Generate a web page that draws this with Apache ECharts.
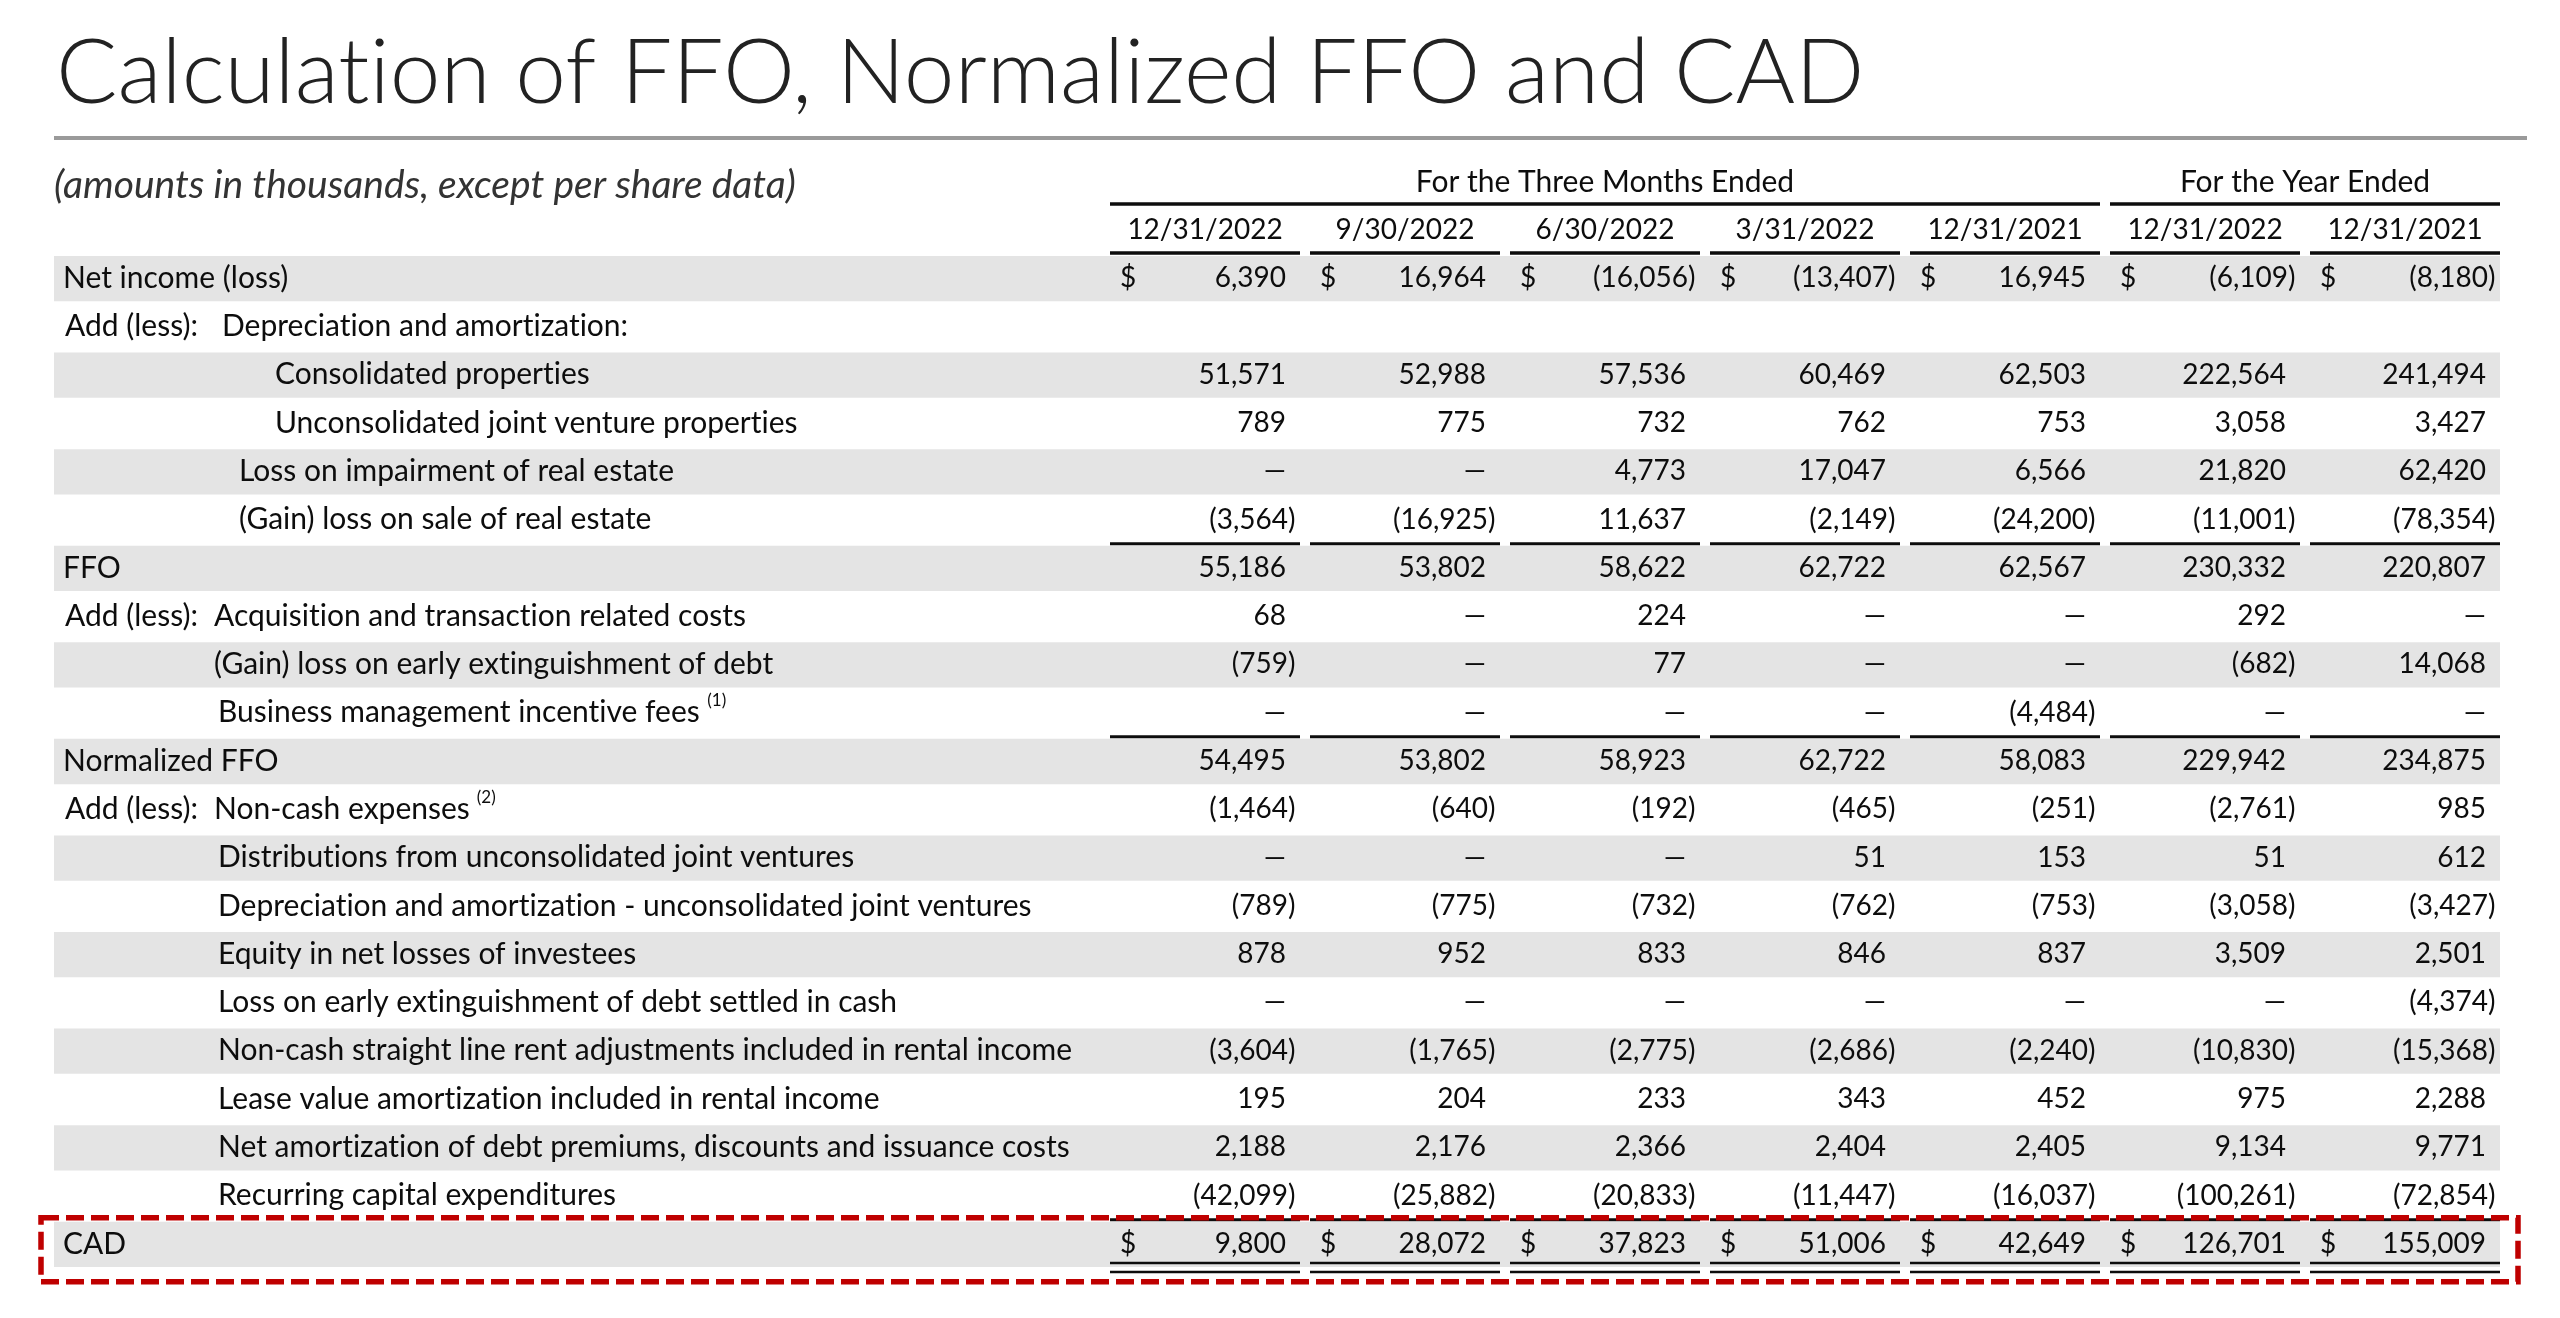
<!DOCTYPE html>
<html lang="en">
<head>
<meta charset="UTF-8">
<title>Calculation of FFO, Normalized FFO and CAD</title>
<script src="https://cdn.jsdelivr.net/npm/echarts@6.0.0/dist/echarts.min.js"></script>
<style>
  html, body { margin: 0; padding: 0; background: #fff; }
  #main { width: 2560px; height: 1318px; }
</style>
</head>
<body>
<div id="main"></div>
<script>
// ---- data ----
var periods = ['12/31/2022', '9/30/2022', '6/30/2022', '3/31/2022', '12/31/2021', '12/31/2022', '12/31/2021'];
var periodGroups = ['For the Three Months Ended', 'For the Year Ended'];
var periodGroupOf = [0, 0, 0, 0, 0, 1, 1];

var rowLabels = [
  'Net income (loss)',
  'Depreciation and amortization:',
  'Consolidated properties',
  'Unconsolidated joint venture properties',
  'Loss on impairment of real estate',
  '(Gain) loss on sale of real estate',
  'FFO',
  'Acquisition and transaction related costs',
  '(Gain) loss on early extinguishment of debt',
  'Business management incentive fees',
  'Normalized FFO',
  'Non-cash expenses',
  'Distributions from unconsolidated joint ventures',
  'Depreciation and amortization - unconsolidated joint ventures',
  'Equity in net losses of investees',
  'Loss on early extinguishment of debt settled in cash',
  'Non-cash straight line rent adjustments included in rental income',
  'Lease value amortization included in rental income',
  'Net amortization of debt premiums, discounts and issuance costs',
  'Recurring capital expenditures',
  'CAD'
];
var rowPrefix = ['', 'Add (less):', '', '', '', '', '', 'Add (less):', '', '', '', 'Add (less):', '', '', '', '', '', '', '', '', ''];
var rowNotes = ['', '', '', '', '', '', '', '', '', '(1)', '', '(2)', '', '', '', '', '', '', '', '', ''];

// 0 means "—"
var netIncome        = [6390, 16964, -16056, -13407, 16945, -6109, -8180];
var consolidated     = [51571, 52988, 57536, 60469, 62503, 222564, 241494];
var unconsolidated   = [789, 775, 732, 762, 753, 3058, 3427];
var impairment       = [0, 0, 4773, 17047, 6566, 21820, 62420];
var saleGainLoss     = [-3564, -16925, 11637, -2149, -24200, -11001, -78354];
var ffo              = [55186, 53802, 58622, 62722, 62567, 230332, 220807];
var acquisitionCosts = [68, 0, 224, 0, 0, 292, 0];
var earlyDebt        = [-759, 0, 77, 0, 0, -682, 14068];
var incentiveFees    = [0, 0, 0, 0, -4484, 0, 0];
var normalizedFfo    = [54495, 53802, 58923, 62722, 58083, 229942, 234875];
var nonCashExpenses  = [-1464, -640, -192, -465, -251, -2761, 985];
var jvDistributions  = [0, 0, 0, 51, 153, 51, 612];
var jvDepreciation   = [-789, -775, -732, -762, -753, -3058, -3427];
var equityLosses     = [878, 952, 833, 846, 837, 3509, 2501];
var debtSettledCash  = [0, 0, 0, 0, 0, 0, -4374];
var straightLineRent = [-3604, -1765, -2775, -2686, -2240, -10830, -15368];
var leaseAmort       = [195, 204, 233, 343, 452, 975, 2288];
var debtPremiums     = [2188, 2176, 2366, 2404, 2405, 9134, 9771];
var capex            = [-42099, -25882, -20833, -11447, -16037, -100261, -72854];
var cad              = [9800, 28072, 37823, 51006, 42649, 126701, 155009];

var rowValues = [netIncome, null, consolidated, unconsolidated, impairment, saleGainLoss, ffo,
  acquisitionCosts, earlyDebt, incentiveFees, normalizedFfo, nonCashExpenses, jvDistributions,
  jvDepreciation, equityLosses, debtSettledCash, straightLineRent, leaseAmort, debtPremiums, capex, cad];

// ---- styling ----
var rowIndent = [9, 168, 221, 221, 185, 185, 9, 160, 160, 164, 9, 160, 164, 164, 164, 164, 164, 164, 164, 164, 9];
var dollarRows = [0, 20];
var subtotalRows = [6, 10, 20];
var totalRow = 20;

var LABEL_FONT = '30px Lato';
var NUM_FONT = '28px Lato';
var INK = '#0d0d0d';
var BAND = '#e4e4e4';
var LABEL_AREA = 1056;
var COL_GAP = 10;

var measureCtx = document.createElement('canvas').getContext('2d');
function textWidth(str, font) {
  measureCtx.font = font;
  return measureCtx.measureText(str).width;
}

// zero-width non-joiners stop Lato from drawing ti / tt / fi style ligatures
function noLig(s) {
  return s.replace(/([ft])(?=[filt])/g, '$1\u200C');
}

function fmt(v) {
  if (v === 0) return '\u2014';
  var s = Math.abs(v).toString().replace(/\B(?=(\d{3})+(?!\d))/g, ',');
  return v < 0 ? '(' + s + ')' : s;
}

function txt(x, y, text, align, font, fill) {
  return {
    type: 'text', x: x, y: y,
    style: {
      text: noLig(text), font: font || LABEL_FONT, fill: fill || INK,
      align: align, verticalAlign: 'middle',
      textAlign: align, textVerticalAlign: 'middle'
    }
  };
}

function bar(x, y, w, h, fill) {
  return { type: 'rect', shape: { x: x, y: y, width: w, height: h }, style: { fill: fill || INK } };
}

function renderHeader(params, api) {
  var c = api.value(0);
  var center = api.coord([c, 0]);
  var colW = api.size([1, 0])[0];
  var x0 = center[0] - colW / 2;
  var cy = center[1];
  var kids = [];
  kids.push(txt(x0 + (colW - COL_GAP) / 2, cy - 48, periods[c], 'center', NUM_FONT));
  kids.push(bar(x0, cy - 27, colW - COL_GAP, 3.5));
  var g = periodGroupOf[c];
  if (c === 0 || periodGroupOf[c - 1] !== g) {
    var last = c;
    while (last + 1 < periods.length && periodGroupOf[last + 1] === g) last++;
    var w = (last - c + 1) * colW - COL_GAP;
    kids.push(txt(x0 + w / 2, cy - 96, periodGroups[g], 'center'));
    kids.push(bar(x0, cy - 76, w, 3.5));
  }
  return { type: 'group', children: kids };
}

function renderRow(params, api) {
  var r = api.value(1);
  var cs = params.coordSys;
  var cy = api.coord([0, r])[1];
  var pitch = api.size([0, 1])[1];
  var colW = api.size([1, 0])[0];
  var left = cs.x - LABEL_AREA;
  var right = cs.x + cs.width - COL_GAP;
  var kids = [];
  if (r % 2 === 0) {
    kids.push(bar(left, cy - pitch / 2 + 2, right - left, pitch - 3, BAND));
  }
  if (rowPrefix[r]) kids.push(txt(left + 11, cy, rowPrefix[r], 'left'));
  var lx = left + rowIndent[r];
  kids.push(txt(lx, cy, rowLabels[r], 'left'));
  if (rowNotes[r]) {
    kids.push(txt(lx + textWidth(rowLabels[r], LABEL_FONT) + 7, cy - 12, rowNotes[r], 'left', '17px Lato'));
  }
  if (subtotalRows.indexOf(r) >= 0) {
    for (var c = 0; c < periods.length; c++) {
      var cx = api.coord([c, r])[0] - colW / 2;
      kids.push(bar(cx, cy - pitch / 2 - 1.5, colW - COL_GAP, 3));
    }
  }
  if (r === totalRow) {
    kids.push({
      type: 'rect',
      shape: { x: left - 13, y: cy - 26, width: right - left + 31, height: 64 },
      style: { fill: 'none', stroke: '#bf0000', lineWidth: 5.5, lineDash: [18, 7] }
    });
  }
  return { type: 'group', children: kids };
}

function renderCell(params, api) {
  var c = api.value(0);
  var r = api.value(1);
  var v = api.value(2);
  var center = api.coord([c, r]);
  var colW = api.size([1, 0])[0];
  var x0 = center[0] - colW / 2;
  var cy = center[1];
  var xr = x0 + colW - 24;
  var kids = [];
  if (dollarRows.indexOf(r) >= 0) kids.push(txt(x0 + 10, cy, '$', 'left', NUM_FONT));
  var s = fmt(v);
  kids.push(txt(v < 0 ? xr + textWidth(')', NUM_FONT) + 2 : xr, cy, s, 'right', NUM_FONT));
  if (r === totalRow) {
    kids.push(bar(x0, cy + 18, colW - COL_GAP, 2.5));
    kids.push(bar(x0, cy + 27, colW - COL_GAP, 2.5));
  }
  return { type: 'group', children: kids };
}

var headerData = periods.map(function (p, i) { return [i, 0]; });
var rowData = rowLabels.map(function (l, i) { return [0, i]; });
var cellData = [];
rowValues.forEach(function (vals, r) {
  if (!vals) return;
  vals.forEach(function (v, c) { cellData.push([c, r, v]); });
});

var chart = echarts.init(document.getElementById('main'), null, { renderer: 'canvas' });
chart.setOption({
  backgroundColor: '#fff',
  animation: false,
  graphic: [
    {
      type: 'text', x: 56, y: 74,
      style: { text: noLig('Calculation of FFO, Normalized FFO and CAD'), font: '300 91px Lato', fill: '#222',
        verticalAlign: 'middle', textVerticalAlign: 'middle' }
    },
    { type: 'rect', shape: { x: 54, y: 136, width: 2473, height: 4 }, style: { fill: '#9a9a9a' } },
    {
      type: 'text', x: 54, y: 185,
      style: { text: '(amounts in thousands, except per share data)', font: 'italic 39px Lato', fill: '#333',
        verticalAlign: 'middle', textVerticalAlign: 'middle' }
    }
  ],
  grid: { left: 1110, right: 50, top: 254, bottom: 50 },
  xAxis: { type: 'category', data: periods, show: false },
  yAxis: { type: 'category', data: rowLabels, inverse: true, show: false },
  series: [
    { type: 'custom', name: 'rows', data: rowData, encode: { x: 0, y: 1 }, renderItem: renderRow, silent: true, z: 1 },
    { type: 'custom', name: 'header', data: headerData, encode: { x: 0, y: 1 }, renderItem: renderHeader, silent: true, z: 2 },
    { type: 'custom', name: 'cells', data: cellData, encode: { x: 0, y: 1 }, renderItem: renderCell, silent: true, z: 3 }
  ]
});
</script>
</body>
</html>
